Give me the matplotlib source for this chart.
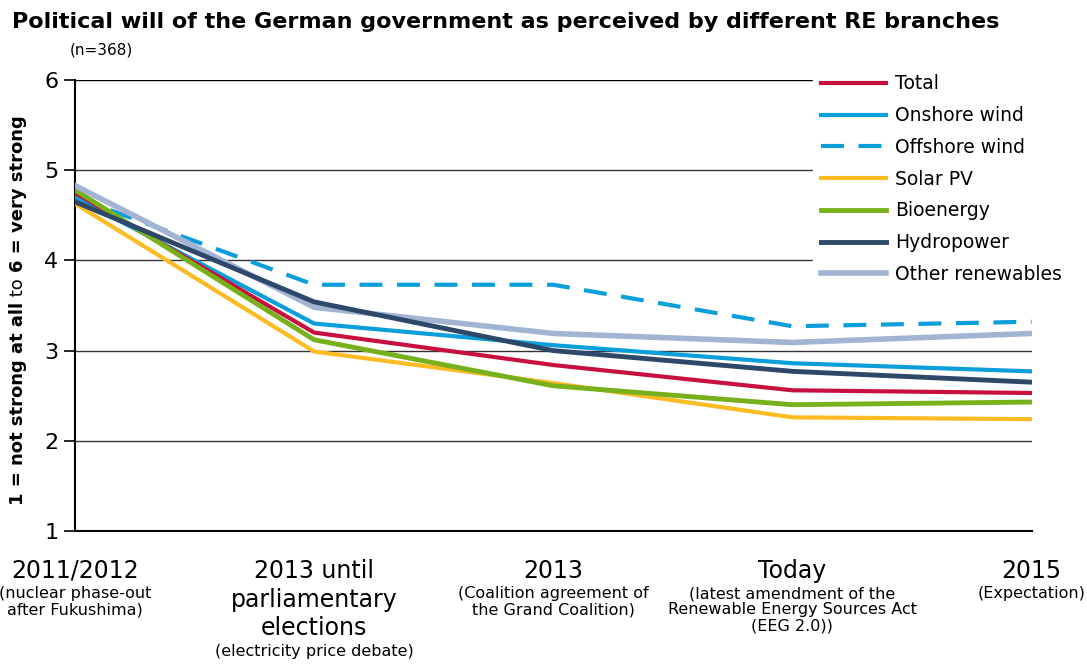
import numpy as np
import matplotlib.pyplot as plt
from matplotlib import transforms

periods = ['2011/2012', '2013 until\nparliamentary\nelections', '2013', 'Today', '2015']
period_notes = ['(nuclear phase-out\nafter Fukushima)', '(electricity price debate)',
                '(Coalition agreement of\nthe Grand Coalition)',
                '(latest amendment of the\nRenewable Energy Sources Act\n(EEG 2.0))',
                '(Expectation)']

total = [4.75, 3.20, 2.84, 2.56, 2.53]
onshore = [4.70, 3.30, 3.06, 2.86, 2.77]
offshore = [4.70, 3.73, 3.73, 3.27, 3.32]
solar = [4.63, 2.99, 2.64, 2.26, 2.24]
bio = [4.78, 3.12, 2.61, 2.40, 2.43]
hydro = [4.65, 3.54, 3.00, 2.77, 2.65]
other = [4.83, 3.48, 3.19, 3.09, 3.19]

fig = plt.figure(figsize=(10.87, 6.64), dpi=100)
ax = fig.add_axes([0.069, 0.2003, 0.880, 0.6792])

x = np.arange(len(periods))
lw = 3
h_total, = ax.plot(x, total, color='#c8103e', lw=lw, zorder=4, label='Total')
h_on, = ax.plot(x, onshore, color='#0a9edb', lw=lw, zorder=3, label='Onshore wind')
h_off, = ax.plot(x, offshore, color='#0a9edb', lw=lw, dashes=(5.5, 3.5), zorder=3, label='Offshore wind')
h_sol, = ax.plot(x, solar, color='#fcbb22', lw=lw, zorder=3, label='Solar PV')
h_bio, = ax.plot(x, bio, color='#78b01c', lw=lw + 0.5, zorder=5, label='Bioenergy')
h_hyd, = ax.plot(x, hydro, color='#2d4868', lw=lw + 0.5, zorder=6, label='Hydropower')
h_oth, = ax.plot(x, other, color='#a2b4d2', lw=lw + 1, zorder=5, label='Other renewables')

ax.set_xlim(0, 4)
ax.set_ylim(1, 6)
ax.set_yticks([1, 2, 3, 4, 5, 6])
ax.tick_params(axis='y', labelsize=16, length=8, width=1.2, color='black', pad=4)
ax.set_xticks([])
for s in ['top', 'right']:
    ax.spines[s].set_visible(False)
ax.spines['left'].set_linewidth(1.5)
ax.spines['bottom'].set_linewidth(1.5)
for v in [2, 3, 4, 5, 6]:
    ax.axhline(v, color='#333333' if v < 6 else 'black', lw=1, zorder=1)

leg = ax.legend(handles=[h_total, h_on, h_off, h_sol, h_bio, h_hyd, h_oth],
                loc='upper left', bbox_to_anchor=(0.762, 1.05), fontsize=13.5,
                handlelength=3.5, handletextpad=0.45, labelspacing=0.68,
                frameon=True, framealpha=1, edgecolor='white', fancybox=False)
leg.set_zorder(10)

fig.text(0.011, 0.967, 'Political will of the German government as perceived by different RE branches',
         fontsize=16, fontweight='bold', va='center', ha='left')
fig.text(0.064, 0.925, '(n=368)', fontsize=11, va='center', ha='left')

fig.canvas.draw()
renderer = fig.canvas.get_renderer()

# x category labels with notes below
tr = transforms.blended_transform_factory(ax.transData, ax.transAxes)
for i, (lab, note) in enumerate(zip(periods, period_notes)):
    t = ax.annotate(lab, xy=(i, 0), xycoords=tr, xytext=(0, -20), textcoords='offset points',
                    ha='center', va='top', fontsize=17, linespacing=1.25)
    bb = t.get_window_extent(renderer)
    gap_pts = (ax.transAxes.transform((0, 0))[1] - bb.y0) * 72 / fig.dpi
    ax.annotate(note, xy=(i, 0), xycoords=tr, xytext=(0, -gap_pts - 2.5), textcoords='offset points',
                ha='center', va='top', fontsize=11.5, linespacing=1.1)

# y label with mixed weights
parts = [('1 = not strong at all', 'bold'), (' to ', 'normal'), ('6 = very strong', 'bold')]
texts = []
total_h = 0
for s, w in parts:
    t = fig.text(0, 0, s, rotation=90, fontsize=13, fontweight=w, va='bottom', ha='center')
    texts.append(t)
    total_h += t.get_window_extent(renderer).height
ycur = (fig.bbox.height - 310) - total_h / 2
for t in texts:
    h = t.get_window_extent(renderer).height
    t.set_position((18 / fig.bbox.width, ycur / fig.bbox.height))
    ycur += h

fig.savefig('out.png', dpi=100)
